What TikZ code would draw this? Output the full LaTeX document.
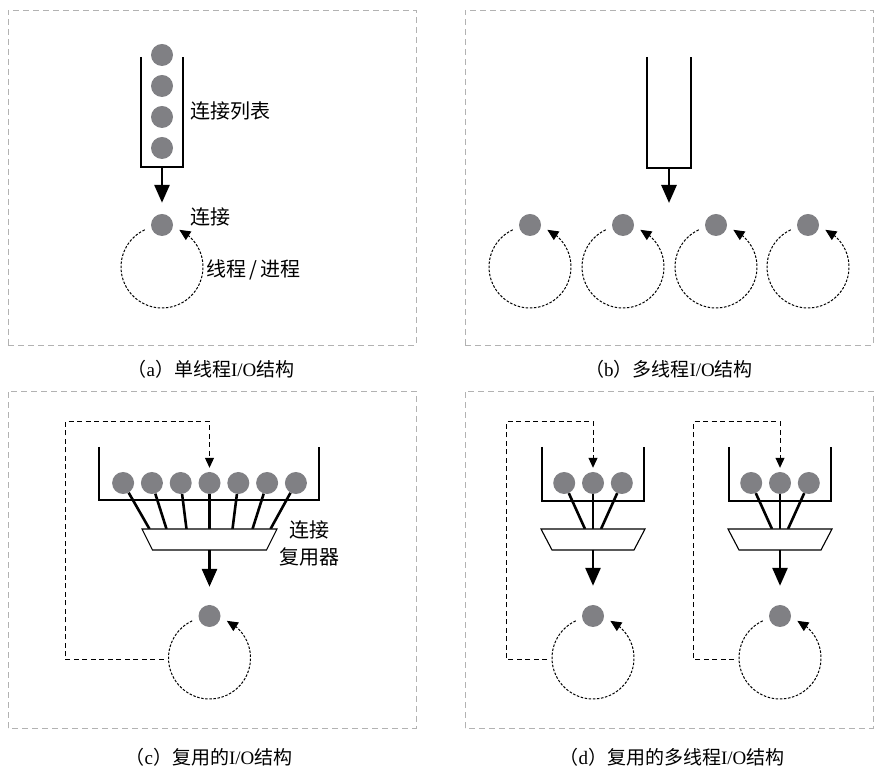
\documentclass[tikz,border=0pt]{standalone}
\usepackage{fontspec}
\setmainfont{Liberation Serif}
\newfontfamily\cjk{Noto Sans CJK SC}
\usetikzlibrary{arrows.meta,bending,calc}
\definecolor{ballgray}{RGB}{128,128,132}
\newcommand\iocap[2]{{\cjk （}#1{\cjk ）#2}I/O{\cjk 结构}}

\begin{document}
\begin{tikzpicture}[x=1pt, y=1pt,
  frame/.style={draw=black!30, line width=0.8pt, dash pattern=on 6pt off 4pt},
  conn/.style={circle, fill=ballgray, minimum size=22pt, inner sep=0pt},
  tube/.style={line width=1.3pt},
  flow/.style={line width=2.8pt, -{Triangle[width=15pt,length=18pt]}},
  wire/.style={line width=2.6pt},
  muxbox/.style={line width=1.1pt, fill=white},
  loopline/.style={line width=1pt, dash pattern=on 2.5pt off 1.6pt,
    -{Triangle[width=10pt,length=11pt,flex]}},
  back/.style={line width=1pt, dash pattern=on 5pt off 3.5pt,
    -{Triangle[width=9pt,length=10pt]}},
  label/.style={font=\cjk\fontsize{20}{27}\selectfont, inner sep=0pt},
  caption/.style={font=\fontsize{19}{22}\selectfont, inner sep=0pt},
]
  \def\loopR{41}
  \def\loopDown{42}
  \useasboundingbox (0,0) rectangle (882,775);

  % (a)
  \draw[frame] (8,430) rectangle (416,765);
  \draw[tube] (141,718) -- (141,608) -- (183,608) -- (183,718);
  \foreach \i/\y in {1/627,2/658,3/689,4/720}
    \node[conn] (qa\i) at (162,\y) {};
  \coordinate (qaout) at (162,608);
  \node[conn] (ta) at (162,550) {};
  \draw[flow, shorten >=11pt] (qaout) -- (ta);
  \draw[loopline]
    ($(ta)+(0,-\loopDown)+(115:\loopR)$)
    arc [start angle=115, end angle=425, radius=\loopR]
  ;
  \node[label, anchor=west] (qalabel) at (190,664) {连接列表};
  \node[label, anchor=west] (talabel) at (190,558) {连接};
  \node[label, anchor=west] (thlabel) at (206,505) {线程\,/\,进程};
  \node[caption] (capa) at (211,406) {\iocap{a}{单线程}};

  % (b)
  \draw[frame] (465,430) rectangle (873,765);
  \draw[tube] (647,718) -- (647,607) -- (691,607) -- (691,718);
  \coordinate (qbout) at (669,607);
  \coordinate (qbtip) at (669,572);
  \draw[flow] (qbout) -- (qbtip);
  \foreach \i/\x in {1/530,2/623,3/716,4/808} {
    \node[conn] (tb\i) at (\x,550) {};
    \draw[loopline]
      ($(tb\i)+(0,-\loopDown)+(115:\loopR)$)
      arc [start angle=115, end angle=425, radius=\loopR];
  }
  \node[caption] (capb) at (669,406) {\iocap{b}{多线程}};

  % (c)
  \draw[frame] (8,47) rectangle (416,384);
  \draw[tube] (99,328) -- (99,275) -- (319,275) -- (319,328);
  \coordinate (mcbot) at (209.5,225);
  \foreach \i/\dx/\w in {1/-86.4/-60,2/-57.6/-43,3/-28.8/-23,4/0/0,
                         5/28.8/23,6/57.6/43,7/86.4/61} {
    \node[conn] (qc\i) at (209.5+\dx,292) {};
    \draw[wire] (qc\i) -- ($(mcbot)+(\w,21)$);
  }
  \draw[muxbox]
    ($(mcbot)+(-67.5,21)$) -- ($(mcbot)+(67.5,21)$)
    -- ($(mcbot)+(57,0)$) -- ($(mcbot)+(-57,0)$) -- cycle
  ;
  \node[conn] (tc) at (209.5,159) {};
  \draw[flow, shorten >=18pt] (mcbot) -- (tc);
  \draw[loopline]
    ($(tc)+(0,-\loopDown)+(115:\loopR)$)
    arc [start angle=115, end angle=425, radius=\loopR]
  ;
  \draw[back, shorten >=4pt] ($(tc)+(-46,-44)$) -| (65,353) -| (qc4);
  \node[label, align=center] (mclabel) at (309,232) {连接\\复用器};
  \node[caption] (capc) at (209,18) {\iocap{c}{复用的}};

  % (d)
  \draw[frame] (465,47) rectangle (873,384);
  \foreach \g/\cx in {1/593,2/780} {
    \draw[tube] (\cx-51,328) -- (\cx-51,274) -- (\cx+51,274) -- (\cx+51,328);
    \coordinate (md\g) at (\cx,225);
    \foreach \i/\dx/\w in {1/-28.8/-8,2/0/0,3/28.8/8} {
      \node[conn] (qd\g-\i) at (\cx+\dx,292) {};
      \draw[wire] (qd\g-\i) -- ($(md\g)+(\w,21)$);
    }
    \draw[muxbox]
      ($(md\g)+(-52,21)$) -- ($(md\g)+(52,21)$)
      -- ($(md\g)+(41,0)$) -- ($(md\g)+(-41,0)$) -- cycle;
    \node[conn] (td\g) at (\cx,159) {};
    \draw[flow, shorten >=19pt] (md\g) -- (td\g);
    \draw[loopline]
      ($(td\g)+(0,-\loopDown)+(115:\loopR)$)
      arc [start angle=115, end angle=425, radius=\loopR];
    \draw[back, shorten >=4pt] ($(td\g)+(-46,-44)$) -| (\cx-87,353) -| (qd\g-2);
  }
  \node[caption] (capd) at (672,18) {\iocap{d}{复用的多线程}};
\end{tikzpicture}
\end{document}
